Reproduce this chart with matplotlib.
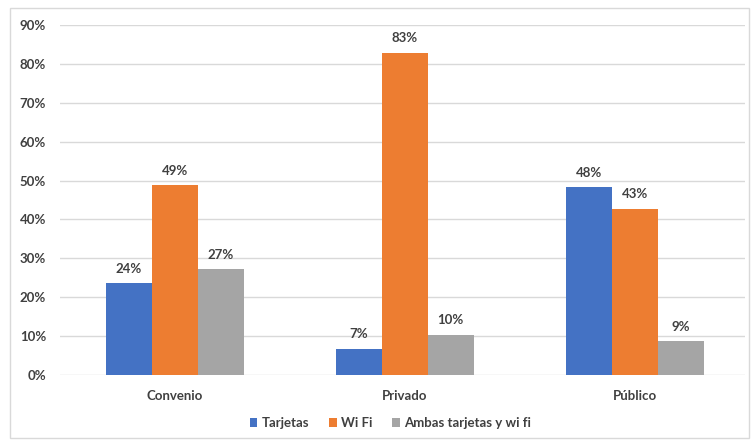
import matplotlib
matplotlib.use("Agg")
import matplotlib.pyplot as plt
from matplotlib.patches import Rectangle
import numpy as np

categories = ["Convenio", "Privado", "Público"]
series_names = ["Tarjetas", "Wi Fi", "Ambas tarjetas y wi fi"]
tarjetas = [23.6, 6.7, 48.3]
wifi = [48.8, 82.8, 42.7]
ambas = [27.2, 10.3, 8.7]
colors = ["#4472C4", "#ED7D31", "#A5A5A5"]
yticks = [0, 10, 20, 30, 40, 50, 60, 70, 80, 90]

plt.rcParams['font.family'] = ['Lato', 'DejaVu Sans']

fig = plt.figure(figsize=(7.51, 4.44), dpi=100)
fig.patches.append(Rectangle((10/751, 6/444), 739/751, 430/444, transform=fig.transFigure,
                             fill=False, edgecolor="#D9D9D9", linewidth=1))
ax = fig.add_axes([60/751, 1-375/444, 685/751, 350/444])

x = np.arange(len(categories))
w = 0.2
for i, (vals, name, c) in enumerate(zip([tarjetas, wifi, ambas], series_names, colors)):
    bars = ax.bar(x + (i-1)*w, vals, w, color=c, label=name, zorder=3)
    for b, v in zip(bars, vals):
        ax.text(b.get_x() + b.get_width()/2, v + 2.2, f"{round(v)}%", ha="center", va="bottom",
                fontsize=9.5, fontweight="bold", color="#404040")

ax.set_xlim(-0.5, 2.48)
ax.set_ylim(0, 90)
ax.set_yticks(yticks)
ax.set_yticklabels([f"{t}%" for t in yticks])
ax.set_xticks(x)
ax.set_xticklabels(categories)
for lab in ax.get_xticklabels() + ax.get_yticklabels():
    lab.set_fontweight("bold")
    lab.set_fontsize(9.5)
    lab.set_color("#404040")
ax.tick_params(axis="both", length=0)
ax.tick_params(axis="x", pad=11)
ax.tick_params(axis="y", pad=10)
ax.grid(axis="y", color="#D9D9D9", linewidth=1, zorder=0)
for s in ax.spines.values():
    s.set_visible(False)

fig.legend(loc="center", bbox_to_anchor=(390/751, 1-423/444), ncol=3, frameon=False,
           handlelength=0.6, handleheight=0.6, handletextpad=0.3, columnspacing=1.5,
           prop={"weight": "bold", "size": 9.5}, labelcolor="#404040")

fig.savefig("out.png", dpi=100)
